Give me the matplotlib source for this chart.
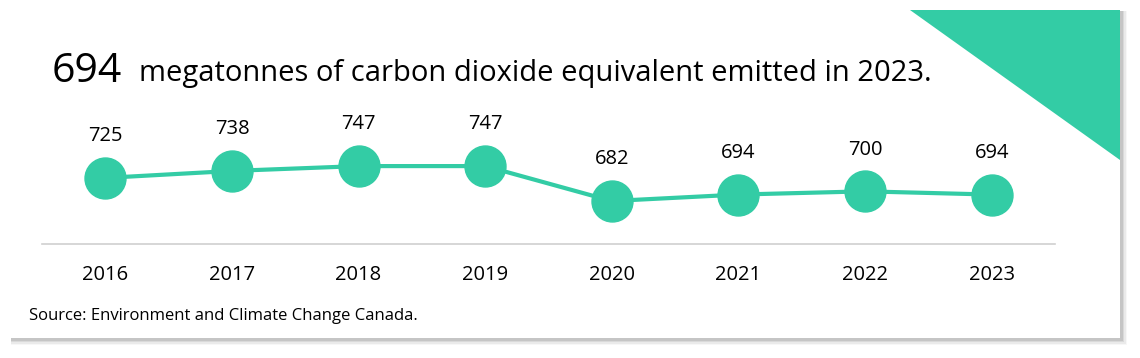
import matplotlib
matplotlib.use("Agg")
import matplotlib.pyplot as plt
from matplotlib.patches import Rectangle, Polygon

# data
years = ["2016", "2017", "2018", "2019", "2020", "2021", "2022", "2023"]
emissions = [725, 738, 747, 747, 682, 694, 700, 694]
headline_value = "694"
headline_text = "megatonnes of carbon dioxide equivalent emitted in 2023."
source_text = "Source: Environment and Climate Change Canada."

green = "#33CCA5"
plt.rcParams["font.family"] = ["Open Sans", "DejaVu Sans"]

W, H = 1140, 358
fig = plt.figure(figsize=(W / 100, H / 100), dpi=100)
fig.patch.set_facecolor("white")

# background axes in pixel coordinates (y down)
bg = fig.add_axes([0, 0, 1, 1])
bg.set_xlim(0, W)
bg.set_ylim(H, 0)
bg.axis("off")

# card shadow, a few soft layers
for i, a in enumerate([0.03, 0.05, 0.07, 0.09]):
    d = 6 - i * 1.5
    bg.add_patch(Rectangle((11, 11), 1110 + d, 328 + d,
                           color="black", alpha=a, lw=0))
bg.add_patch(Rectangle((10, 10), 1110, 328, color="white", lw=0))
# corner triangle
bg.add_patch(Polygon([[910, 10], [1120, 10], [1120, 160]], closed=True,
                     color=green, lw=0))

bg.text(52, 72, headline_value, fontsize=29.5, va="center", ha="left", color="black")
bg.text(139, 74, headline_text, fontsize=21, va="center", ha="left", color="black")
bg.text(29, 316, source_text, fontsize=12, va="center", ha="left", color="black")

# data axes: spans x 42..1055 px, y 100..244 px
ax = fig.add_axes([42 / W, 1 - 244 / H, (1055 - 42) / W, (244 - 100) / H])
ax.patch.set_alpha(0)
x = list(range(len(years)))
ax.plot(x, emissions, color=green, lw=3, marker="o", ms=29.5,
        markerfacecolor=green, markeredgecolor=green, zorder=3)
for xi, v in zip(x, emissions):
    ax.annotate(str(v), (xi, v), xytext=(0, 30), textcoords="offset points",
                ha="center", va="center", fontsize=14.5)
ax.set_xlim(-0.5, 7.5)
ax.set_ylim(602, 870)
ax.set_xticks(x)
ax.set_xticklabels(years, fontsize=14.5)
ax.tick_params(axis="x", length=0, pad=15)
ax.set_yticks([])
for s in ["top", "right", "left"]:
    ax.spines[s].set_visible(False)
ax.spines["bottom"].set_color("#d0d0d0")
ax.spines["bottom"].set_linewidth(1.2)

fig.savefig("out.png", dpi=100)
